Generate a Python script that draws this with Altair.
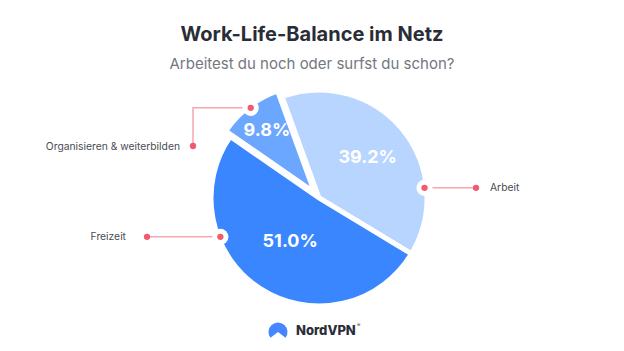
import math
import altair as alt
import pandas as pd

# ---------------- data ----------------
categories = ["Arbeit", "Freizeit", "Organisieren & weiterbilden"]
shares = [39.2, 51.0, 9.8]
pct_labels = ["39.2%", "51.0%", "9.8%"]
colors = ["#B8D5FF", "#3A86FF", "#6BA6FF"]
title_text = "Work-Life-Balance im Netz"
subtitle_text = "Arbeitest du noch oder surfst du schon?"
brand = "NordVPN"

# ---------------- layout ----------------
W, H, TOP = 624, 351, 80
CX, CY = 319, 198 - TOP          # pie centre in plot coordinates
R = 108                          # outer radius (stroke eats ~2.5px)
START = math.radians(-20)        # first slice starts a little left of 12 o'clock
EXPLODE = (-4.5, -5.5)           # offset of the small slice
label_radius = [63, 53, 78]
FONT = "Inter"

small = categories[2]

df = pd.DataFrame({"cat": categories, "value": shares, "label": pct_labels,
                   "order": list(range(len(categories))), "lr": label_radius})

theta_scale = alt.Scale(domain=[0, 100], range=[START, START + 2 * math.pi])
color_scale = alt.Scale(domain=categories, range=colors)

base = alt.Chart(df).transform_window(
    cum_end="sum(value)", sort=[alt.SortField("order")], frame=[None, 0]
).transform_calculate(
    cum_start="datum.cum_end - datum.value",
    mid="datum.cum_end - datum.value / 2",
)

arc_enc = dict(
    theta=alt.Theta("cum_start:Q", scale=theta_scale),
    theta2="cum_end:Q",
    color=alt.Color("cat:N", scale=color_scale, legend=None),
    x=alt.value(CX), y=alt.value(CY),
)
arcs_main = base.transform_filter(f"datum.cat != '{small}'").mark_arc(
    outerRadius=R, stroke="white", strokeWidth=5).encode(**arc_enc)
arcs_small = base.transform_filter(f"datum.cat == '{small}'").mark_arc(
    outerRadius=R, stroke="white", strokeWidth=5,
    xOffset=EXPLODE[0], yOffset=EXPLODE[1]).encode(**arc_enc)

txt_enc = dict(
    theta=alt.Theta("mid:Q", scale=theta_scale),
    radius=alt.Radius("lr:Q", scale=None),
    text="label:N",
    x=alt.value(CX), y=alt.value(CY),
)
txt_props = dict(font=FONT, fontSize=18, fontWeight="bold", color="white",
                 align="center", baseline="middle")
pct_main = base.transform_filter(f"datum.cat != '{small}'").mark_text(
    **txt_props).encode(**txt_enc)
pct_small = base.transform_filter(f"datum.cat == '{small}'").mark_text(
    xOffset=EXPLODE[0], yOffset=EXPLODE[1], **txt_props).encode(**txt_enc)

# ---------------- annotations (leader lines) ----------------
anchor_angle = [84.5, 248.5, 323.0]   # degrees clockwise from top
anchor_r = 106
centres = [(CX, CY), (CX, CY), (CX + EXPLODE[0], CY + EXPLODE[1])]
anchors = []
for a, (cx, cy) in zip(anchor_angle, centres):
    rad = math.radians(a)
    anchors.append((cx + anchor_r * math.sin(rad), cy - anchor_r * math.cos(rad)))

paths = [
    [anchors[0], (476, anchors[0][1])],
    [anchors[1], (147, anchors[1][1])],
    [anchors[2], (193, anchors[2][1]), (193, 146 - TOP)],
]
label_pos = [(490, 188 - TOP, "left"), (126, 237 - TOP, "right"), (180, 147 - TOP, "right")]

line_rows, end_rows, anc_rows, lab_rows = [], [], [], []
for cat, path, (lx, ly, al), anc in zip(categories, paths, label_pos, anchors):
    for i, (px, py) in enumerate(path):
        line_rows.append({"cat": cat, "i": i, "x": px, "y": py})
    end_rows.append({"x": path[-1][0], "y": path[-1][1]})
    anc_rows.append({"x": anc[0], "y": anc[1]})
    lab_rows.append({"cat": cat, "x": lx, "y": ly, "align": al})

X = lambda: alt.X("x:Q", scale=None, axis=None)
Y = lambda: alt.Y("y:Q", scale=None, axis=None)

lines = alt.Chart(pd.DataFrame(line_rows)).mark_line(
    color="#F6A7B2", strokeWidth=1.5).encode(x=X(), y=Y(), detail="cat:N", order="i:Q")
notch = alt.Chart(pd.DataFrame(anc_rows)).mark_point(
    shape="circle", filled=True, color="white", opacity=1, size=260).encode(x=X(), y=Y())
dots = alt.Chart(pd.DataFrame(anc_rows + end_rows)).mark_point(
    shape="circle", filled=True, color="#F25A6E", opacity=1, size=40).encode(x=X(), y=Y())
lab_df = pd.DataFrame(lab_rows)
lab_style = dict(font=FONT, fontSize=10.3, color="#4A4C55", baseline="middle")
labels_l = alt.Chart(lab_df[lab_df["align"] == "left"]).mark_text(
    align="left", **lab_style).encode(x=X(), y=Y(), text="cat:N")
labels_r = alt.Chart(lab_df[lab_df["align"] == "right"]).mark_text(
    align="right", **lab_style).encode(x=X(), y=Y(), text="cat:N")

# ---------------- brand ----------------
bdf = pd.DataFrame({"t": [brand], "r": ["®"]})
logo_arc = alt.Chart(bdf).mark_arc(
    outerRadius=9.5, theta=math.radians(232), theta2=math.radians(488), color="#4687FF"
).encode(x=alt.value(278), y=alt.value(332 - TOP))
logo_peak = alt.Chart(bdf).mark_point(
    shape="triangle-up", filled=True, color="white", opacity=1, size=45
).encode(x=alt.value(278), y=alt.value(338 - TOP))
logo_txt = alt.Chart(bdf).mark_text(
    font=FONT, fontSize=13, fontWeight=800, color="#2B2D36", align="left", baseline="middle"
).encode(x=alt.value(296), y=alt.value(331 - TOP), text="t:N")
logo_reg = alt.Chart(bdf).mark_text(
    font=FONT, fontSize=5, color="#2B2D36", align="left", baseline="middle"
).encode(x=alt.value(357), y=alt.value(325 - TOP), text="r:N")

chart = alt.layer(
    arcs_main, arcs_small, lines, notch, dots, pct_main, pct_small,
    labels_l, labels_r, logo_arc, logo_peak, logo_txt, logo_reg,
).properties(
    width=W, height=H - TOP,
    background="white",
    title=alt.Title(title_text, subtitle=subtitle_text, anchor="middle",
                    font=FONT, fontSize=20, fontWeight="bold", color="#2B2D36",
                    subtitleFont=FONT, subtitleFontSize=15, subtitleColor="#75777F",
                    subtitlePadding=12, offset=8),
    autosize=alt.AutoSizeParams(type="none"),
    padding={"top": TOP, "left": 0, "right": 0, "bottom": 0},
).configure_view(strokeWidth=0)

chart.save("out.html", embed_options={"renderer": "svg", "actions": False})
